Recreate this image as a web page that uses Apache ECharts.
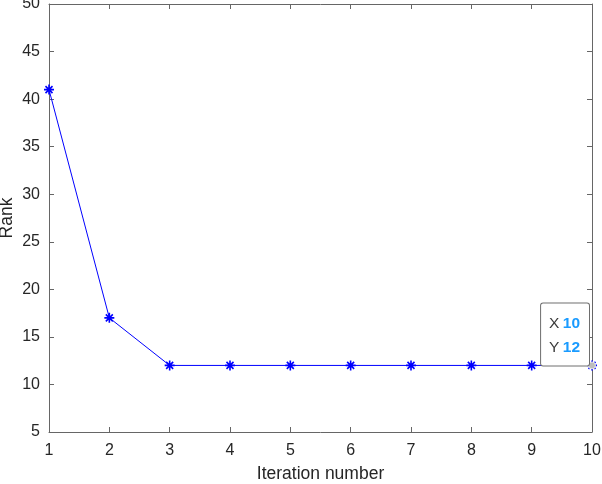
<!DOCTYPE html>
<html>
<head>
<meta charset="utf-8">
<script src="https://cdn.jsdelivr.net/npm/echarts@6/dist/echarts.min.js"></script>
<style>
    html, body { margin: 0; padding: 0; background: #fff; }
    #chart { width: 602px; height: 484px; }
</style>
</head>
<body>
<div id="chart"></div>
<script>
// iteration numbers and rank values
const iterations = [1, 2, 3, 4, 5, 6, 7, 8, 9, 10];
const ranks = [41, 17, 12, 12, 12, 12, 12, 12, 12, 12];
const tipIndex = 9; // data tip sits on the last point

// asterisk marker drawn as stroked lines
const asterisk = 'path://M0 5L10 5M5 0L5 10M1.5 1.5L8.5 8.5M8.5 1.5L1.5 8.5';

const axisCol = '#666';
const textCol = '#262626';
const font = 'Liberation Sans, Arial, sans-serif';

let myChart = echarts.init(document.getElementById('chart'));

let option = {
    animation: false,
    grid: { left: 49, right: 10, top: 4, bottom: 52, outerBoundsMode: 'none', containLabel: false },
    xAxis: [
        {
            type: 'value',
            min: 1, max: 10, interval: 1,
            name: 'Iteration number',
            nameLocation: 'middle',
            nameGap: 33,
            nameMoveOverlap: false,
            nameTextStyle: { color: textCol, fontSize: 17.5, fontFamily: font },
            axisLine: { lineStyle: { color: axisCol, width: 1 } },
            axisTick: { inside: true, length: 5, lineStyle: { color: axisCol } },
            axisLabel: { color: textCol, fontSize: 16, fontFamily: font, margin: 11 },
            splitLine: { show: false }
        },
        {
            type: 'value', position: 'top',
            min: 1, max: 10, interval: 1,
            axisLine: { show: true, lineStyle: { color: axisCol, width: 1 } },
            axisTick: { inside: true, length: 5, lineStyle: { color: axisCol } },
            axisLabel: { show: false },
            splitLine: { show: false }
        }
    ],
    yAxis: [
        {
            type: 'value',
            min: 5, max: 50, interval: 5,
            name: 'Rank',
            nameLocation: 'middle',
            nameGap: 33,
            nameMoveOverlap: false,
            nameTextStyle: { color: textCol, fontSize: 17.5, fontFamily: font },
            axisLine: { show: true, lineStyle: { color: axisCol, width: 1 } },
            axisTick: { show: true, inside: true, length: 5, lineStyle: { color: axisCol } },
            axisLabel: { color: textCol, fontSize: 16, fontFamily: font, margin: 9 },
            splitLine: { show: false }
        },
        {
            type: 'value', position: 'right',
            min: 5, max: 50, interval: 5,
            axisLine: { show: true, lineStyle: { color: axisCol, width: 1 } },
            axisTick: { show: true, inside: true, length: 5, lineStyle: { color: axisCol } },
            axisLabel: { show: false },
            splitLine: { show: false }
        }
    ],
    series: [
        {
            type: 'line',
            data: iterations.map((x, i) => [x, ranks[i]]),
            symbol: asterisk,
            symbolSize: 10,
            showAllSymbol: true,
            lineStyle: { color: '#0000ff', width: 1 },
            itemStyle: { color: 'rgba(0,0,0,0)', borderColor: '#0000ff', borderWidth: 1.6 },
            markPoint: {
                symbol: 'circle',
                symbolSize: 7,
                itemStyle: { color: '#bdbdbd', borderColor: '#e6e6e6', borderWidth: 1 },
                data: [{ coord: [iterations[tipIndex], ranks[tipIndex]] }],
                label: {
                    show: true,
                    position: [1, 4],
                    align: 'right',
                    verticalAlign: 'bottom',
                    backgroundColor: '#fff',
                    borderColor: '#6e6e6e',
                    borderWidth: 1,
                    borderRadius: 2,
                    padding: [8, 9, 6, 8],
                    lineHeight: 24,
                    formatter: () => '{k|X} {v|' + iterations[tipIndex] + '}\n{k|Y} {v|' + ranks[tipIndex] + '}',
                    rich: {
                        k: { color: '#3b3b3b', fontSize: 15.5, fontFamily: font, lineHeight: 24 },
                        v: { color: '#1a9bff', fontSize: 15.5, fontWeight: 'bold', fontFamily: font, lineHeight: 24 }
                    }
                }
            }
        }
    ]
};

option && myChart.setOption(option);
</script>
</body>
</html>
